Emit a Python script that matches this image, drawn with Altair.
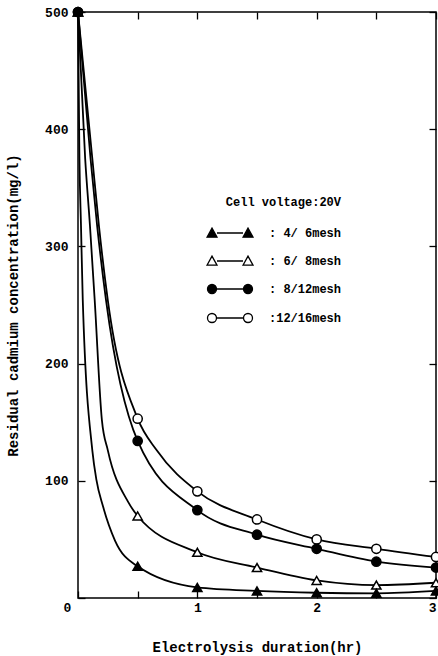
import altair as alt
import pandas as pd

# ---- data ----
series = ["4/ 6mesh", "6/ 8mesh", "8/12mesh", "12/16mesh"]
times = [0, 0.5, 1, 1.5, 2, 2.5, 3]
ft_marks = [500, 27, 9, 6, 4.5, 4, 6]       # filled triangles
ht_marks = [500, 70, 39, 26, 15, 11, 13]    # open triangles
fc_marks = [500, 134, 75, 54, 42, 31, 26]   # filled circles
hc_marks = [500, 153, 91, 67, 50, 42, 35]   # open circles

# extra points (between markers)
ft_curve_t = [0.012, 0.025, 0.04, 0.12, 0.154, 0.21, 0.31]
ft_curve_v = [375, 318, 254, 126, 101, 78, 49]
ht_curve_t = [0.06, 0.1, 0.14, 0.2, 0.25, 0.42]
ht_curve_v = [375, 318, 254, 152, 126, 82]
fc_curve_t = [0.105, 0.16, 0.235]
fc_curve_v = [375, 318, 254]
hc_curve_t = [0.12, 0.175, 0.25, 0.66]
hc_curve_v = [375, 318, 254, 126]

x_ticks = [0, 0.5, 1, 1.5, 2, 2.5, 3]
y_ticks = [0, 100, 200, 300, 400, 500]

FONT = "Liberation Mono"

marks_by_series = [ft_marks, ht_marks, fc_marks, hc_marks]
curves_by_series = [(ft_curve_t, ft_curve_v), (ht_curve_t, ht_curve_v),
                    (fc_curve_t, fc_curve_v), (hc_curve_t, hc_curve_v)]

mark_rows = []
line_rows = []
for s, vals, (ct, cv) in zip(series, marks_by_series, curves_by_series):
    for t, v in zip(times, vals):
        mark_rows.append({"series": s, "t": t, "v": v})
        line_rows.append({"series": s, "t": t, "v": v})
    for t, v in zip(ct, cv):
        line_rows.append({"series": s, "t": t, "v": v})

# draw open markers first so filled ones sit on top at the shared start point
draw_order = {"6/ 8mesh": 0, "12/16mesh": 1, "4/ 6mesh": 2, "8/12mesh": 3}
marks_df = pd.DataFrame(mark_rows)
marks_df["o"] = marks_df["series"].map(draw_order)
marks_df = marks_df.sort_values(["o", "t"]).drop(columns="o")
lines_df = pd.DataFrame(line_rows).sort_values(["series", "t"])

xscale = alt.Scale(domain=[0, 3], nice=False, zero=False)
yscale = alt.Scale(domain=[0, 500], nice=False)

shape_range = ["triangle-up", "triangle-up", "circle", "circle"]
fill_range = ["black", "white", "black", "white"]
stroke_range = ["black", "black", "black", "black"]

tri_pair = ("M-2.3,0.42L-1.8,-0.48L-1.3,0.42Z"
            "M-1.3,0L1.3,0"
            "M1.3,0.42L1.8,-0.48L2.3,0.42Z")
circ_pair = ("M-2.25,0A0.45,0.45 0 1,1 -1.35,0A0.45,0.45 0 1,1 -2.25,0Z"
             "M-1.35,0L1.35,0"
             "M1.35,0A0.45,0.45 0 1,1 2.25,0A0.45,0.45 0 1,1 1.35,0Z")
legend_shapes = [tri_pair, tri_pair, circ_pair, circ_pair]

x_axis = alt.Axis(
    values=x_ticks, grid=False, domain=False, tickSize=7, offset=-7,
    tickColor="black", tickWidth=1.3,
    labelExpr="datum.value % 1 == 0 ? format(datum.value, 'd') : ''",
    labelAlign={"condition": {"test": "datum.value == 3", "value": "right"}, "value": "center"},
    labelOffset={"condition": {"test": "datum.value == 0", "value": -11}, "value": 0},
    labelFont=FONT, labelFontSize=13, labelFontWeight="bold", labelColor="black",
    labelPadding=3, labelFlush=False, labelOverlap=False,
    title="Electrolysis duration(hr)", titleFont=FONT, titleFontSize=14,
    titleFontWeight="bold", titleColor="black", titlePadding=26,
)
y_axis = alt.Axis(
    values=y_ticks, grid=False, domain=False, tickSize=7, offset=-7,
    tickColor="black", tickWidth=1.3,
    labelExpr="datum.value == 0 ? '' : datum.label",
    labelFont=FONT, labelFontSize=13, labelFontWeight="bold", labelColor="black",
    labelPadding=10, labelFlush=False,
    title="Residual cadmium concentration(mg/l)", titleFont=FONT, titleFontSize=14,
    titleFontWeight="bold", titleColor="black", titlePadding=24,
)

lines = alt.Chart(lines_df).mark_line(
    color="black", strokeWidth=1.8, interpolate="monotone"
).encode(
    x=alt.X("t:Q", scale=xscale, axis=x_axis),
    y=alt.Y("v:Q", scale=yscale, axis=y_axis),
    detail="series:N",
)

markers = alt.Chart(marks_df).mark_point(
    filled=True, stroke="black", strokeWidth=1.5, size=85, opacity=1
).encode(
    x=alt.X("t:Q", scale=xscale, axis=None),
    y=alt.Y("v:Q", scale=yscale, axis=None),
    shape=alt.Shape("series:N", scale=alt.Scale(domain=series, range=shape_range), legend=None),
    fill=alt.Fill("series:N", scale=alt.Scale(domain=series, range=fill_range), legend=None),
)

leg = alt.Legend(
    title="Cell voltage:20V", orient="none", legendX=141, legendY=185,
    titleFont=FONT, titleFontSize=12, titleFontWeight="bold", titleColor="black",
    titleAnchor="end", titleAlign="right", titlePadding=13,
    labelFont=FONT, labelFontSize=12, labelFontWeight="bold", labelColor="black",
    labelExpr="':' + (length(datum.label) < 9 ? ' ' : '') + datum.label",
    labelOffset=28, symbolSize=400, symbolStrokeColor="black",
    symbolStrokeWidth=1.3, symbolOpacity=1, rowPadding=10, padding=0,
)

legend_layer = alt.Chart(marks_df).mark_point(
    filled=True, strokeWidth=1.3, opacity=0
).encode(
    x=alt.X("t:Q", scale=xscale, axis=alt.Axis(
        orient="top", values=x_ticks, labels=False, domain=False, grid=False,
        tickSize=7, offset=-7, tickColor="black", tickWidth=1.3, title=None)),
    y=alt.Y("v:Q", scale=yscale, axis=alt.Axis(
        orient="right", values=y_ticks, labels=False, domain=False, grid=False,
        tickSize=7, offset=-7, tickColor="black", tickWidth=1.3, title=None)),
    shape=alt.Shape("series:N", scale=alt.Scale(domain=series, range=legend_shapes), legend=leg),
    fill=alt.Fill("series:N", scale=alt.Scale(domain=series, range=fill_range), legend=leg),
    stroke=alt.Stroke("series:N", scale=alt.Scale(domain=series, range=stroke_range), legend=leg),
)

chart = alt.layer(lines, markers, legend_layer).resolve_scale(
    shape="independent", fill="independent", stroke="independent"
).resolve_axis(
    x="independent", y="independent"
).properties(
    width=358, height=586,
    autosize=alt.AutoSizeParams(type="none"),
    padding={"left": 78, "top": 12, "right": 2, "bottom": 58},
    background="white",
).configure_view(
    stroke="black", strokeWidth=1.5
)

chart.save("out.html", embed_options={"renderer": "svg", "actions": False})
